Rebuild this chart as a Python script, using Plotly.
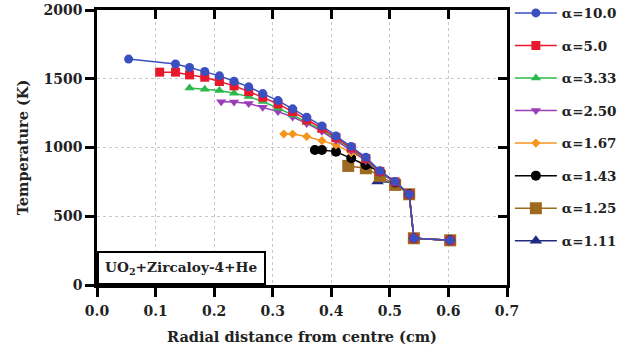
import plotly.graph_objects as go

# ---- data ----
x_a10 = [0.054, 0.134, 0.158, 0.184, 0.209, 0.234, 0.259, 0.283, 0.309, 0.334, 0.358, 0.384, 0.408, 0.434, 0.459, 0.483, 0.509, 0.533, 0.541, 0.603]
t_a10 = [1643, 1607, 1582, 1553, 1521, 1482, 1441, 1392, 1341, 1281, 1220, 1157, 1084, 1007, 929, 830, 752, 660, 340, 325]

x_a5 = [0.107, 0.134, 0.158, 0.184, 0.209, 0.234, 0.259, 0.283, 0.309, 0.334, 0.358, 0.384, 0.408, 0.434, 0.459, 0.483, 0.509, 0.533, 0.541, 0.603]
t_a5 = [1548, 1548, 1528, 1511, 1480, 1448, 1407, 1366, 1317, 1261, 1200, 1140, 1072, 997, 920, 826, 750, 660, 340, 325]

x_a333 = [0.158, 0.184, 0.209, 0.234, 0.259, 0.283, 0.309, 0.334, 0.358, 0.384, 0.408, 0.434, 0.459, 0.483, 0.509, 0.533, 0.541, 0.603]
t_a333 = [1432, 1424, 1414, 1395, 1370, 1334, 1286, 1237, 1183, 1128, 1063, 990, 912, 822, 748, 660, 340, 325]

x_a250 = [0.212, 0.234, 0.259, 0.283, 0.309, 0.334, 0.358, 0.384, 0.408, 0.434, 0.459, 0.483, 0.509, 0.533, 0.541, 0.603]
t_a250 = [1333, 1330, 1320, 1293, 1261, 1222, 1175, 1118, 1052, 980, 905, 818, 746, 660, 340, 325]

x_a167 = [0.319, 0.334, 0.358, 0.384, 0.408, 0.434, 0.459, 0.483, 0.509, 0.533, 0.541, 0.603]
t_a167 = [1098, 1098, 1080, 1050, 1019, 963, 910, 822, 748, 660, 340, 325]

x_a143 = [0.372, 0.384, 0.408, 0.434, 0.459, 0.483, 0.509, 0.533, 0.541, 0.603]
t_a143 = [982, 982, 970, 922, 873, 825, 745, 660, 340, 325]

x_a125 = [0.429, 0.459, 0.483, 0.509, 0.533, 0.541, 0.603]
t_a125 = [866, 849, 793, 728, 660, 340, 325]

x_a111 = [0.479, 0.509, 0.533, 0.541, 0.603]
t_a111 = [752, 745, 660, 340, 325]

labels = ["α=10.0", "α=5.0", "α=3.33", "α=2.50", "α=1.67", "α=1.43", "α=1.25", "α=1.11"]

x_ticks = [0.0, 0.1, 0.2, 0.3, 0.4, 0.5, 0.6, 0.7]
y_ticks = [0, 500, 1000, 1500, 2000]

# ---- styles ----
series = [
    (x_a10, t_a10, "#3a50c0", "circle", 9),
    (x_a5, t_a5, "#e8192c", "square", 9),
    (x_a333, t_a333, "#2db84b", "triangle-up", 9),
    (x_a250, t_a250, "#9b3cb8", "triangle-down", 9),
    (x_a167, t_a167, "#f7941d", "diamond", 7),
    (x_a143, t_a143, "#000000", "circle", 10),
    (x_a125, t_a125, "#9c6b20", "square", 12),
    (x_a111, t_a111, "#1f2a80", "triangle-up", 11),
]

FONT = "DejaVu Serif"

fig = go.Figure()
for i in reversed(range(len(series))):
    xs, ys, col, sym, sz = series[i]
    fig.add_trace(go.Scatter(
        x=xs, y=ys, mode="lines+markers", name="<b>%s</b>" % labels[i],
        line=dict(color=col, width=1.5),
        marker=dict(color=col, symbol=sym, size=sz),
        legendrank=i + 1, legendgroup=labels[i],
    ))

# empty trace so the mirrored top/right frame axes get drawn
fig.add_trace(go.Scatter(x=[], y=[], xaxis="x2", yaxis="y2", showlegend=False, hoverinfo="skip"))

axis_common = dict(
    showline=True, linecolor="black", linewidth=2.5,
    tickcolor="black", tickwidth=2.5, ticklen=9,
    tickfont=dict(family=FONT, size=14, color="#222"),
    zeroline=False, automargin=False,
)

fig.update_layout(
    width=628, height=354,
    margin=dict(l=97, r=121, t=10, b=69, autoexpand=False),
    paper_bgcolor="white", plot_bgcolor="white",
    font=dict(family=FONT, color="#222"),
    xaxis=dict(
        range=[0, 0.7], tickmode="array", tickvals=x_ticks,
        ticktext=["<b>%.1f</b>" % v for v in x_ticks], ticks="outside",
        ticklabelstandoff=2,
        showgrid=True, gridcolor="#c8c8c8", griddash="dot", gridwidth=1,
        title=dict(text="<b>Radial distance from centre (cm)</b>", font=dict(family=FONT, size=14.5), standoff=15),
        **axis_common,
    ),
    yaxis=dict(
        range=[0, 2000], tickmode="array", tickvals=y_ticks,
        ticktext=["<b>%d</b>" % v for v in y_ticks], ticks="outside",
        showgrid=True, gridcolor="#c8c8c8", griddash="dot", gridwidth=1,
        title=dict(text="<b>Temperature (K)</b>", font=dict(family=FONT, size=14.5), standoff=12),
        **axis_common,
    ),
    xaxis2=dict(
        range=[0, 0.7], tickmode="array", tickvals=x_ticks, ticks="inside", overlaying="x", side="top",
        anchor="y2", showticklabels=False, showgrid=False, **axis_common,
    ),
    yaxis2=dict(
        range=[0, 2000], tickmode="array", tickvals=y_ticks, ticks="inside", overlaying="y", side="right",
        anchor="x2", showticklabels=False, showgrid=False, **axis_common,
    ),
    legend=dict(
        x=1.007, xanchor="left", y=1.045, yanchor="top",
        font=dict(family=FONT, size=13.5, color="#222"),
        tracegroupgap=12, itemwidth=42, bgcolor="rgba(0,0,0,0)",
        maxheight=354,
    ),
    showlegend=True,
)

fig.add_annotation(
    xref="paper", yref="paper", x=0, y=0, xanchor="left", yanchor="bottom",
    text="<b>UO<sub>2</sub>+Zircaloy-4+He</b>", showarrow=False,
    font=dict(family=FONT, size=13.7, color="#222"),
    bordercolor="black", borderwidth=2, borderpad=6, bgcolor="white",
)

fig.write_html(
    "out.html",
    config={"displayModeBar": False},
    post_script="document.body.style.margin='0';document.body.style.overflow='hidden';",
)
